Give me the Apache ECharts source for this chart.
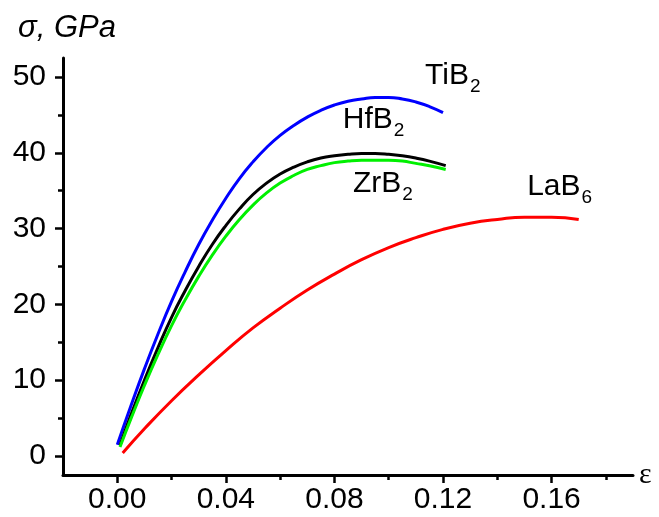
<!DOCTYPE html>
<html>
<head>
<meta charset="utf-8">
<script src="https://cdn.jsdelivr.net/npm/echarts@6/dist/echarts.min.js"></script>
<style>
  html, body { margin: 0; padding: 0; background: #fff; }
  #chart { width: 659px; height: 517px; }
</style>
</head>
<body>
<div id="chart"></div>
<script>
// strain values (epsilon) and stress (GPa)
const epsTiB2 = [0, 0.005, 0.01, 0.015, 0.02, 0.025, 0.03, 0.035, 0.04, 0.045, 0.05, 0.055, 0.06, 0.065, 0.07, 0.075, 0.08, 0.085, 0.09, 0.095, 0.10, 0.105, 0.11, 0.115, 0.12]
const sigTiB2 = [1.5, 6.6, 11.5, 16.1, 20.4, 24.3, 27.9, 31.1, 34.0, 36.6, 38.8, 40.7, 42.3, 43.6, 44.7, 45.6, 46.3, 46.8, 47.1, 47.3, 47.3, 47.1, 46.7, 46.1, 45.3]

const epsHfB2 = [0.001, 0.005, 0.01, 0.015, 0.02, 0.025, 0.03, 0.035, 0.04, 0.045, 0.05, 0.055, 0.06, 0.065, 0.07, 0.075, 0.08, 0.085, 0.09, 0.095, 0.10, 0.105, 0.11, 0.115, 0.121]
const sigHfB2 = [1.4, 5.4, 10.0, 14.3, 18.3, 21.8, 25.0, 27.9, 30.4, 32.6, 34.5, 36.0, 37.2, 38.1, 38.8, 39.3, 39.6, 39.8, 39.9, 39.9, 39.8, 39.6, 39.3, 38.9, 38.3]

const epsZrB2 = [0.001, 0.005, 0.01, 0.015, 0.02, 0.025, 0.03, 0.035, 0.04, 0.045, 0.05, 0.055, 0.06, 0.065, 0.07, 0.075, 0.08, 0.085, 0.09, 0.095, 0.10, 0.105, 0.11, 0.115, 0.121]
const sigZrB2 = [1.2, 4.9, 9.3, 13.4, 17.2, 20.6, 23.7, 26.5, 29.0, 31.2, 33.1, 34.7, 36.0, 37.0, 37.8, 38.3, 38.7, 38.9, 39.0, 39.0, 39.0, 38.9, 38.6, 38.3, 37.8]

const epsLaB6 = [0.002, 0.01, 0.02, 0.03, 0.04, 0.05, 0.06, 0.07, 0.08, 0.09, 0.10, 0.11, 0.12, 0.13, 0.14, 0.15, 0.16, 0.17]
const sigLaB6 = [0.4, 3.6, 7.3, 10.7, 13.9, 16.9, 19.5, 21.9, 24.0, 25.9, 27.5, 28.8, 29.9, 30.7, 31.2, 31.5, 31.5, 31.2]

// axis ticks
const xMajor = [0, 0.04, 0.08, 0.12, 0.16]
const xMinor = [0.02, 0.06, 0.10, 0.14, 0.18]
const yMajor = [0, 10, 20, 30, 40, 50]
const yMinor = [5, 15, 25, 35, 45]

// curve labels: [name, subscript, eps, sigma]
const labelTiB2 = ["TiB", "2", 0.1134, 50.1]
const labelHfB2 = ["HfB", "2", 0.0831, 44.3]
const labelZrB2 = ["ZrB", "2", 0.0868, 35.9]
const labelLaB6 = ["LaB", "6", 0.151, 35.5]

const FONT = "Liberation Sans"
const pair = (xs, ys) => xs.map((x, i) => [x, ys[i]])

const tag = (l) => ({
  coord: [l[2], l[3]],
  value: l[0] + "|" + l[1],
})

const labelStyle = {
  show: true,
  position: "inside",
  align: "left",
  verticalAlign: "middle",
  formatter: (p) => {
    const s = p.value.split("|")
    return "{m|" + s[0] + "}{s|" + s[1] + "}"
  },
  rich: {
    m: { fontFamily: FONT, fontSize: 30, color: "#000", lineHeight: 34 },
    s: { fontFamily: FONT, fontSize: 19, color: "#000", lineHeight: 34, padding: [22, 0, 0, 1] },
  },
}

const makeSeries = (name, color, xs, ys, l) => ({
  name: name,
  type: "line",
  data: pair(xs, ys),
  smooth: true,
  showSymbol: false,
  lineStyle: { color: color, width: 3 },
  itemStyle: { color: color },
  markPoint: {
    symbol: "circle",
    symbolSize: 0,
    silent: true,
    label: labelStyle,
    data: [tag(l)],
  },
})

const axisLine = { show: true, onZero: false, lineStyle: { color: "#000", width: 3 } }
const noLine = { show: false, onZero: false }

const chart = echarts.init(document.getElementById("chart"))
chart.setOption({
  animation: false,
  grid: { left: 63, right: 26, top: 58, bottom: 42, containLabel: false },
  xAxis: [
    {
      type: "value",
      position: "bottom",
      min: -0.02,
      max: 0.19,
      axisLine: axisLine,
      axisTick: { show: true, length: 8, lineStyle: { color: "#000", width: 2.5 }, customValues: xMajor },
      axisLabel: {
        customValues: xMajor,
        margin: 10,
        fontFamily: FONT,
        fontSize: 30,
        color: "#000",
        formatter: (v) => v.toFixed(2),
      },
      splitLine: { show: false },
      name: "ε",
      nameLocation: "end",
      nameGap: 6,
      nameTextStyle: { fontFamily: "Liberation Serif", fontSize: 30, color: "#000", verticalAlign: "middle" },
    },
    {
      type: "value",
      position: "bottom",
      offset: 0,
      min: -0.02,
      max: 0.19,
      axisLine: noLine,
      axisTick: { show: true, length: 5, lineStyle: { color: "#000", width: 2.5 }, customValues: xMinor },
      axisLabel: { show: false },
      splitLine: { show: false },
    },
  ],
  yAxis: [
    {
      type: "value",
      position: "left",
      min: -2.5,
      max: 52.5,
      axisLine: axisLine,
      axisTick: { show: true, length: 8, lineStyle: { color: "#000", width: 2.5 }, customValues: yMajor },
      axisLabel: {
        customValues: yMajor,
        margin: 17,
        fontFamily: FONT,
        fontSize: 30,
        color: "#000",
      },
      splitLine: { show: false },
      name: "{g|σ}{t|, GPa}",
      nameLocation: "end",
      nameGap: 14,
      nameTextStyle: {
        align: "left",
        padding: [0, 0, 0, -45],
        rich: {
          g: { fontFamily: FONT, fontStyle: "italic", fontSize: 31, color: "#000" },
          t: { fontFamily: FONT, fontStyle: "italic", fontSize: 31, color: "#000" },
        },
      },
    },
    {
      type: "value",
      position: "left",
      offset: 0,
      min: -2.5,
      max: 52.5,
      axisLine: noLine,
      axisTick: { show: true, length: 5, lineStyle: { color: "#000", width: 2.5 }, customValues: yMinor },
      axisLabel: { show: false },
      splitLine: { show: false },
    },
  ],
  series: [
    makeSeries("TiB2", "#0000ff", epsTiB2, sigTiB2, labelTiB2),
    makeSeries("HfB2", "#000000", epsHfB2, sigHfB2, labelHfB2),
    makeSeries("ZrB2", "#00f000", epsZrB2, sigZrB2, labelZrB2),
    makeSeries("LaB6", "#ff0000", epsLaB6, sigLaB6, labelLaB6),
  ],
})
window.addEventListener("resize", () => {
  chart.resize()
})
</script>
</body>
</html>
